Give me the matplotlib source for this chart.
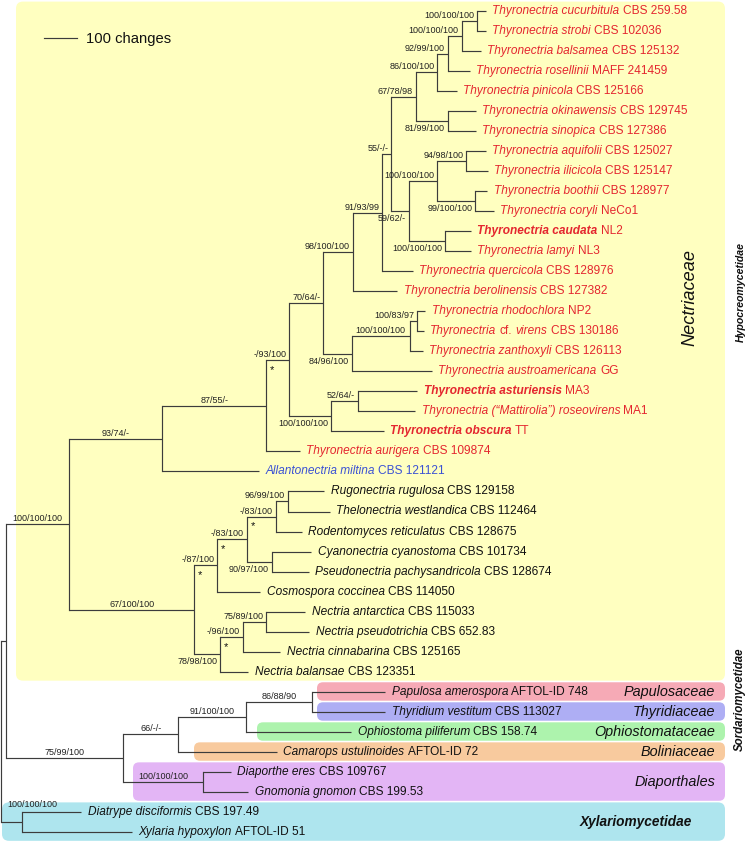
import matplotlib
matplotlib.use("Agg")
import matplotlib.pyplot as plt
from matplotlib.patches import FancyBboxPatch

plt.rcParams["font.family"] = ["Liberation Sans", "DejaVu Sans"]

# ---------------- data ----------------
TAXA = [
    "Thyronectria cucurbitula", "Thyronectria strobi", "Thyronectria balsamea",
    "Thyronectria rosellinii", "Thyronectria pinicola", "Thyronectria okinawensis",
    "Thyronectria sinopica", "Thyronectria aquifolii", "Thyronectria ilicicola",
    "Thyronectria boothii", "Thyronectria coryli", "Thyronectria caudata",
    "Thyronectria lamyi", "Thyronectria quercicola", "Thyronectria berolinensis",
    "Thyronectria rhodochlora", "Thyronectria cf. virens", "Thyronectria zanthoxyli",
    "Thyronectria austroamericana", "Thyronectria asturiensis",
    "Thyronectria (\u201cMattirolia\u201d) roseovirens", "Thyronectria obscura",
    "Thyronectria aurigera", "Allantonectria miltina", "Rugonectria rugulosa",
    "Thelonectria westlandica", "Rodentomyces reticulatus", "Cyanonectria cyanostoma",
    "Pseudonectria pachysandricola", "Cosmospora coccinea", "Nectria antarctica",
    "Nectria pseudotrichia", "Nectria cinnabarina", "Nectria balansae",
    "Papulosa amerospora", "Thyridium vestitum", "Ophiostoma piliferum",
    "Camarops ustulinoides", "Diaporthe eres", "Gnomonia gnomon",
    "Diatrype disciformis", "Xylaria hypoxylon",
]
STRAINS = [
    "CBS 259.58", "CBS 102036", "CBS 125132", "MAFF 241459", "CBS 125166",
    "CBS 129745", "CBS 127386", "CBS 125027", "CBS 125147", "CBS 128977",
    "NeCo1", "NL2", "NL3", "CBS 128976", "CBS 127382", "NP2", "CBS 130186",
    "CBS 126113", "GG", "MA3", "MA1", "TT", "CBS 109874", "CBS 121121",
    "CBS 129158", "CBS 112464", "CBS 128675", "CBS 101734", "CBS 128674",
    "CBS 114050", "CBS 115033", "CBS 652.83", "CBS 125165", "CBS 123351",
    "AFTOL-ID 748", "CBS 113027", "CBS 158.74", "AFTOL-ID 72", "CBS 109767",
    "CBS 199.53", "CBS 197.49", "AFTOL-ID 51",
]
NEW_SPECIES = ["Thyronectria caudata", "Thyronectria asturiensis", "Thyronectria obscura"]

# Newick pieces: tips are indices into TAXA, branch lengths in changes,
# node labels are MP/ML/BI support ('*' marks significant node)
CLADE_THYRO_A = ("(((((0:26,1:26)100/100/100:49,2:59)100/100/100:43,3:69)92/99/100:31,"
                 "4:59)86/100/100:67,(5:87,6:87)81/99/100:98)67/78/98:75")
CLADE_THYRO_B = ("(((7:59,8:65)94/98/100:90,(9:37,10:57)99/100/100:117)100/100/100:87,"
                 "(11:79,12:80)100/100/100:111)59/62/-:54")
CLADE_THYRO_C = "(((15:26,16:20)100/83/97:23,17:41)100/100/100:177,18:246)84/96/100:88"
CLADE_THYRO_D = "((19:182,20:176)52/64/-:82,21:161)100/100/100:129"
CLADE_THYRO = ("(((((" + CLADE_THYRO_A + "," + CLADE_THYRO_B + ")55/-/-:28,13:94)91/93/99:90,"
               "14:136)98/100/100:91," + CLADE_THYRO_C + ")70/64/-:105," + CLADE_THYRO_D +
               ")-/93/100*:71")
CLADE_OTHER_NECTRIA = ("(((((24:113,25:129)96/99/100:36,26:80)-/83/100*:89,"
                       "(27:121,28:113)90/97/100:77)-/83/100*:91,29:132)-/87/100*:71,"
                       "(((30:120,31:132)75/89/100:72,32:115)-/96/100*:70,33:87)78/98/100:79)"
                       "67/100/100:385")
CLADE_NECTRIACEAE = ("(((" + CLADE_THYRO + ",22:103)87/55/-:320,23:297)93/74/-:286," +
                     CLADE_OTHER_NECTRIA + ")100/100/100:195")
CLADE_SORDARIO = ("((((34:226,35:226)86/88/90:203,36:324)91/100/100:208,37:303)66/-/-:169,"
                  "(38:85,39:139)100/100/100:246)75/99/100:361")
CLADE_XYLARIO = "(40:182,41:338)100/100/100:65"
TREE = "((" + CLADE_NECTRIACEAE + "," + CLADE_SORDARIO + "):15," + CLADE_XYLARIO + ");"

SCALE_BAR_CHANGES = 100

# clade panels: (label, first tip, last tip)
PANELS = [
    ("Nectriaceae", 0, 33), ("Papulosaceae", 34, 34), ("Thyridiaceae", 35, 35),
    ("Ophiostomataceae", 36, 36), ("Boliniaceae", 37, 37), ("Diaporthales", 38, 39),
    ("Xylariomycetidae", 40, 41),
]

# ---------------- style ----------------
W, H = 747, 843
PX_PER_CHANGE = 0.325
ROOT_PX = 1.0
ROW_PX = 20.02
FIRST_ROW_PX = 11.0
LINE_COLOR = "#3c3c3c"
TIP_FS = 8.6
SUP_FS = 6.5
GENUS_COLORS = {"Thyronectria": "#E4262F", "Allantonectria": "#3B52D4"}
PANEL_STYLE = {
    "Nectriaceae": (16, "#FFFFC0"),
    "Papulosaceae": (317, "#F6AAB6"),
    "Thyridiaceae": (317, "#AEAEF4"),
    "Ophiostomataceae": (257, "#ADF3AD"),
    "Boliniaceae": (194, "#F8CA9E"),
    "Diaporthales": (133, "#E3B5F5"),
    "Xylariomycetidae": (2, "#AEE5EE"),
}
PANEL_RIGHT_PX = 725


def px2x(px):
    return (px - ROOT_PX) / PX_PER_CHANGE


def py2y(py):
    return (py - FIRST_ROW_PX) / ROW_PX


def x2px(x):
    return ROOT_PX + x * PX_PER_CHANGE


def y2py(y):
    return FIRST_ROW_PX + y * ROW_PX


# ---------------- parse tree ----------------
def parse_newick(s):
    s = "".join(s.split()).rstrip(";")
    pos = 0

    def node():
        nonlocal pos
        n = {"children": [], "label": "", "length": 0.0}
        if s[pos] == "(":
            pos += 1
            while True:
                n["children"].append(node())
                if s[pos] == ",":
                    pos += 1
                    continue
                if s[pos] == ")":
                    pos += 1
                    break
        start = pos
        while pos < len(s) and s[pos] not in ":,()":
            pos += 1
        n["label"] = s[start:pos]
        if pos < len(s) and s[pos] == ":":
            pos += 1
            start = pos
            while pos < len(s) and s[pos] not in ",()":
                pos += 1
            n["length"] = float(s[start:pos])
        return n

    return node()


root = parse_newick(TREE)
all_nodes = []


def layout(n, x, parent, is_lower):
    n["x"] = x
    n["parent"] = parent
    n["is_lower"] = is_lower
    all_nodes.append(n)
    if not n["children"]:
        n["tip"] = int(n["label"])
        n["y"] = float(n["tip"])
    else:
        k = len(n["children"])
        for j, c in enumerate(n["children"]):
            layout(c, x + c["length"], n, j == k - 1)
        n["y"] = (n["children"][0]["y"] + n["children"][-1]["y"]) / 2.0


layout(root, 0.0, None, False)

# ---------------- figure ----------------
fig = plt.figure(figsize=(W / 100, H / 100), dpi=100)
ax = fig.add_axes([0, 0, 1, 1])
ax.set_xlim(px2x(0), px2x(W))
ax.set_ylim(py2y(H), py2y(0))
ax.axis("off")
renderer = fig.canvas.get_renderer()

# panels
ma = PX_PER_CHANGE / ROW_PX
for label, a, b in PANELS:
    left_px, col = PANEL_STYLE[label]
    y0 = a - 0.47
    y1 = b + 0.45
    r = 7 if label in ("Nectriaceae", "Xylariomycetidae") else 6
    patch = FancyBboxPatch((px2x(left_px), y0), px2x(PANEL_RIGHT_PX) - px2x(left_px), y1 - y0,
                           boxstyle="round,pad=0,rounding_size=%f" % (r / PX_PER_CHANGE),
                           mutation_aspect=ma, facecolor=col, edgecolor="none", zorder=0)
    ax.add_patch(patch)

# tree branches
for n in all_nodes:
    if n["children"]:
        ax.plot([n["x"], n["x"]], [n["children"][0]["y"], n["children"][-1]["y"]],
                color=LINE_COLOR, lw=0.85, solid_capstyle="projecting", zorder=2)
    if n["parent"] is not None:
        ax.plot([n["parent"]["x"], n["x"]], [n["y"], n["y"]], color=LINE_COLOR, lw=0.85,
                solid_capstyle="butt", zorder=2)

# support values and stars
for n in all_nodes:
    if not n["children"] or n["parent"] is None or not n["label"]:
        continue
    lab = n["label"].rstrip("*")
    star = n["label"].endswith("*")
    p = n["parent"]
    node_px, par_px = x2px(n["x"]), x2px(p["x"])
    ypx = y2py(n["y"])
    t = ax.text(0, 0, lab, fontsize=SUP_FS, color="#222222", ha="left", zorder=3)
    w = t.get_window_extent(renderer).width
    mid = (node_px + par_px) / 2
    if mid + w / 2 <= node_px - 2:
        left, fits = mid - w / 2, True
    else:
        left, fits = node_px - 3 - w, False
    clamped = left < 7
    left = max(left, 7)
    below = n["is_lower"] and not fits and p["parent"] is not None
    if clamped:
        # no room left of the node: sit above the node's upper child
        t.set_position((px2x(left), py2y(y2py(n["children"][0]["y"]) - 3.0)))
        t.set_va("bottom")
    elif below:
        t.set_position((px2x(left), py2y(ypx + 3.0)))
        t.set_va("top")
    else:
        t.set_position((px2x(left), py2y(ypx - 1.0)))
        t.set_va("bottom")
    if star:
        ax.text(px2x(par_px + 6), py2y(ypx + 13.0), "*", fontsize=8, color="#111111",
                ha="center", va="baseline", zorder=3)

# tip labels
space_px = 0.278 * TIP_FS * 100 / 72
for n in all_nodes:
    if n["children"]:
        continue
    i = n["tip"]
    name = TAXA[i]
    bold = name in NEW_SPECIES
    color = GENUS_COLORS.get(name.split()[0], "#111111")
    parts = []
    for word in name.split():
        style = "rm" if word == "cf." else ("bi" if bold else "it")
        if parts and parts[-1][1] == style:
            parts[-1][0] += " " + word
        else:
            parts.append([word, style])
    parts.append([STRAINS[i], "rm"])
    xpx = x2px(n["x"]) + 6.5
    for k, (txt, style) in enumerate(parts):
        if k > 0:
            xpx += space_px
        t = ax.text(px2x(xpx), n["y"], txt, fontsize=TIP_FS, color=color, ha="left",
                    va="center", fontstyle="normal" if style == "rm" else "italic",
                    fontweight="bold" if style == "bi" else "normal", zorder=3)
        xpx += t.get_window_extent(renderer).width

# panel labels
for label, a, b in PANELS:
    yc = (a + b) / 2
    if label == "Nectriaceae":
        ax.text(px2x(690), py2y(298), label, fontsize=13.1, fontstyle="italic", rotation=90,
                ha="center", va="center", color="#111111")
    elif label == "Xylariomycetidae":
        ax.text(px2x(636), yc, label, fontsize=9.8, fontstyle="italic", fontweight="bold",
                ha="center", va="center", color="#111111")
    else:
        ax.text(px2x(715), yc, label, fontsize=10.4, fontstyle="italic",
                ha="right", va="center", color="#111111")

# subclass labels
ax.text(px2x(741), py2y(292), "Hypocreomycetidae", fontsize=7.6, fontstyle="italic",
        fontweight="bold", rotation=90, ha="center", va="center", color="#111111")
ax.text(px2x(740), py2y(699), "Sordariomycetidae", fontsize=8.3, fontstyle="italic",
        fontweight="bold", rotation=90, ha="center", va="center", color="#111111")

# scale bar
sb_x0 = px2x(44.3)
ax.plot([sb_x0, sb_x0 + SCALE_BAR_CHANGES], [py2y(38.3)] * 2, color=LINE_COLOR, lw=0.85)
ax.text(sb_x0 + SCALE_BAR_CHANGES + 9.5 / PX_PER_CHANGE, py2y(38.8), "%d changes" % SCALE_BAR_CHANGES,
        fontsize=10.6, ha="left", va="center", color="#111111")

fig.savefig("out.png", dpi=100)
